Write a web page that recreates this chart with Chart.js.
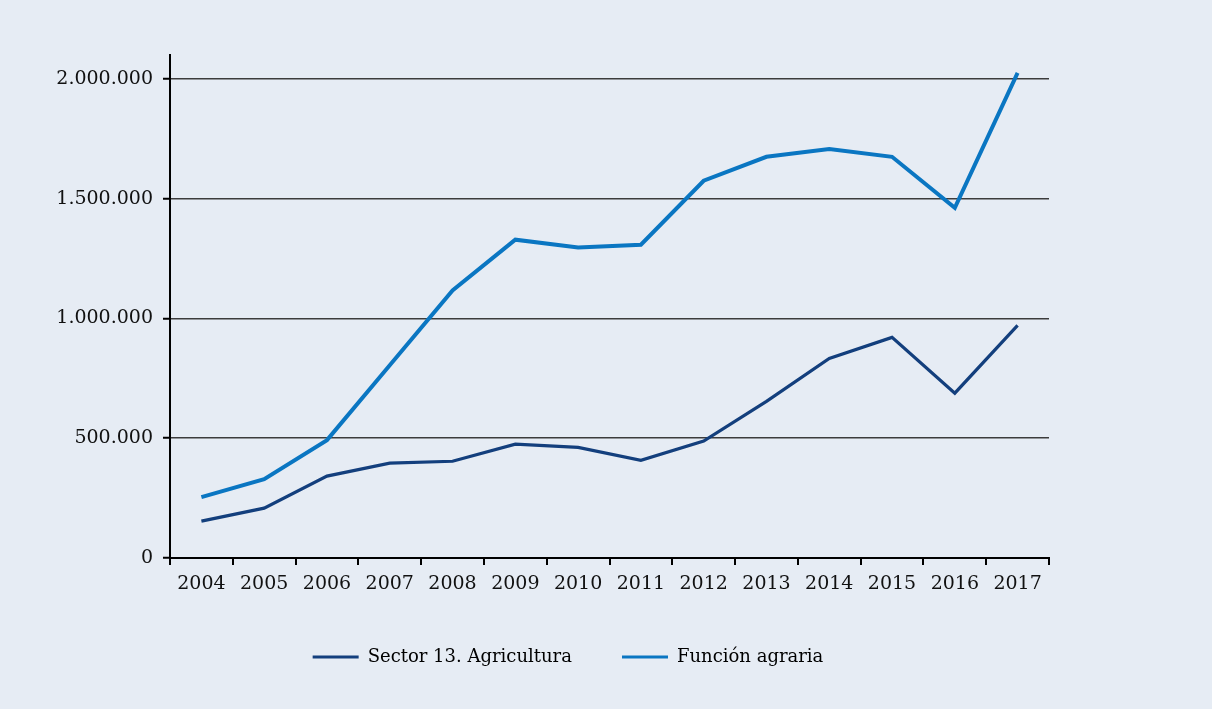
<!DOCTYPE html>
<html>
<head>
<meta charset="utf-8">
<script src="https://cdn.jsdelivr.net/npm/chart.js@4/dist/chart.umd.min.js"></script>
<style>
  html, body { margin: 0; padding: 0; background: #e6ecf4; }
  #wrap { width: 1212px; height: 709px; position: relative; }
</style>
</head>
<body>
<div id="wrap"><canvas id="c" width="1212" height="709"></canvas></div>
<script>
const years = ['2004','2005','2006','2007','2008','2009','2010','2011','2012','2013','2014','2015','2016','2017'];
const sector13 = [154000, 208000, 342000, 396000, 404000, 475000, 462000, 408000, 488000, 654000, 833000, 921000, 688000, 971000];
const funcionAgraria = [254000, 329000, 492000, 805000, 1117000, 1329000, 1296000, 1308000, 1575000, 1675000, 1708000, 1675000, 1462000, 2025000];
const seriesNames = ['Sector 13. Agricultura', 'Función agraria'];
const yTicks = [0, 500000, 1000000, 1500000, 2000000];
const yMax = 2100000;

const FONT = "'DejaVu Serif', Georgia, serif";
Chart.defaults.font.family = FONT;
Chart.defaults.color = '#111';

const fmt = v => Math.round(v).toString().replace(/\B(?=(\d{3})+(?!\d))/g, '.');

new Chart(document.getElementById('c'), {
  type: 'line',
  data: {
    labels: years,
    datasets: [
      { label: seriesNames[0], data: sector13, borderColor: '#133f7d', backgroundColor: '#133f7d', borderWidth: 3.2, pointRadius: 0, tension: 0, yAxisID: 'y' },
      { label: seriesNames[1], data: funcionAgraria, borderColor: '#0a76c2', backgroundColor: '#0a76c2', borderWidth: 4, pointRadius: 0, tension: 0, yAxisID: 'y' }
    ]
  },
  options: {
    responsive: false,
    animation: false,
    layout: { padding: { top: 55, right: 76, left: 0, bottom: 33 } },
    plugins: {
      tooltip: { enabled: false },
      legend: {
        position: 'bottom',
        labels: {
          boxWidth: 46, boxHeight: 3, padding: 10,
          font: { size: 18, family: FONT }, color: '#111',
          generateLabels: chart => chart.data.datasets.map((ds, i) => ({
            text: i === 0 ? ds.label + '       ' : ds.label,
            fillStyle: ds.borderColor, strokeStyle: ds.borderColor, lineWidth: 0, datasetIndex: i, hidden: false
          }))
        }
      }
    },
    scales: {
      x: {
        offset: true,
        grid: { display: true, drawOnChartArea: false, drawTicks: true, tickLength: 7, offset: true, color: '#000', lineWidth: 2 },
        border: { color: '#000', width: 2 },
        ticks: { font: { size: 19, family: FONT }, color: '#111', padding: 8, maxRotation: 0 },
        afterFit: s => { s.height = 80; }
      },
      y: {
        min: 0, max: yMax,
        grid: { color: '#3c3c3c', lineWidth: 1.5, drawTicks: true, tickLength: 7, tickColor: '#000', tickWidth: 2 },
        border: { color: '#000', width: 2 },
        ticks: { font: { size: 19, family: FONT }, color: '#111', padding: 10, callback: v => fmt(v) },
        afterBuildTicks: s => { s.ticks = yTicks.map(v => ({ value: v })); },
        afterFit: s => { s.width = 170; }
      },
      yR: {
        position: 'right', display: true,
        grid: { display: false, drawTicks: false }, border: { display: false },
        ticks: { display: false },
        afterFit: s => { s.width = 87; }
      }
    }
  }
});
</script>
</body>
</html>
